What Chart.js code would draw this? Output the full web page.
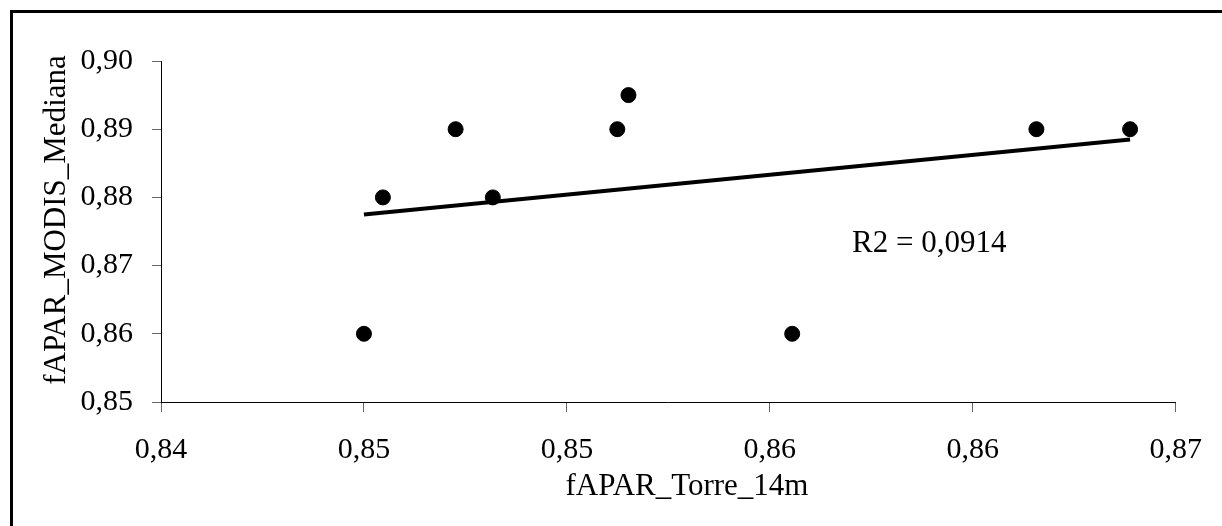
<!DOCTYPE html>
<html>
<head>
<meta charset="utf-8">
<title>fAPAR MODIS vs Torre</title>
<script src="https://cdn.jsdelivr.net/npm/chart.js@4/dist/chart.umd.min.js"></script>
<style>
  body { margin: 0; background: #fff; }
  #wrap { width: 1222px; height: 526px; }
</style>
</head>
<body>
<div id="wrap"><canvas id="chart" width="1222" height="526"></canvas></div>
<script>
// Data
const torreValues = [0.8460, 0.84656, 0.84871, 0.84981, 0.85349, 0.85382, 0.85866, 0.86588, 0.86865];
const modisValues = [0.860, 0.880, 0.890, 0.880, 0.890, 0.895, 0.860, 0.890, 0.890];
const xTicks = [0.84, 0.846, 0.852, 0.858, 0.864, 0.87];
const yTicks = [0.85, 0.86, 0.87, 0.88, 0.89, 0.90];
const xTitle = "fAPAR_Torre_14m";
const yTitle = "fAPAR_MODIS_Mediana";
const r2Label = "R2 = 0,0914";

const font = "Liberation Serif, Times New Roman, serif";

// least squares trend line over the points
function trendLine(xs, ys) {
  let n = xs.length;
  let mx = xs.reduce((a, b) => a + b, 0) / n;
  let my = ys.reduce((a, b) => a + b, 0) / n;
  let sxy = 0, sxx = 0;
  for (let i = 0; i < n; i++) {
    sxy += (xs[i] - mx) * (ys[i] - my);
    sxx += (xs[i] - mx) * (xs[i] - mx);
  }
  let slope = sxy / sxx;
  let x0 = Math.min(...xs), x1 = Math.max(...xs);
  return [
    { x: x0, y: my + slope * (x0 - mx) },
    { x: x1, y: my + slope * (x1 - mx) }
  ];
}

const points = torreValues.map((x, i) => ({ x: x, y: modisValues[i] }));
const fmt = v => Number(v).toFixed(2).replace(".", ",");

// frame, axis titles and R2 label
const extras = {
  id: "extras",
  afterDraw(chart) {
    const ctx = chart.ctx;
    ctx.save();
    ctx.strokeStyle = "#000";
    ctx.lineWidth = 3;
    ctx.strokeRect(11.5, 11.5, 1400, 700);

    ctx.fillStyle = "#000";
    ctx.font = "31px " + font;
    ctx.textBaseline = "alphabetic";
    ctx.textAlign = "left";
    ctx.fillText(r2Label, 852, 252);

    ctx.textAlign = "center";
    ctx.fillText(xTitle, 687, 495);

    ctx.translate(65, 220);
    ctx.rotate(-Math.PI / 2);
    ctx.fillText(yTitle, 0, 0);
    ctx.restore();
  }
};

new Chart(document.getElementById("chart"), {
  type: "scatter",
  data: {
    datasets: [
      {
        data: points,
        backgroundColor: "#000",
        borderColor: "#000",
        pointRadius: 7.5,
        pointHoverRadius: 7.5,
        order: 1
      },
      {
        data: trendLine(torreValues, modisValues),
        showLine: true,
        borderColor: "#000",
        borderWidth: 4,
        pointRadius: 0,
        order: 2
      }
    ]
  },
  options: {
    responsive: false,
    animation: false,
    layout: { padding: { top: 61, right: 44, left: 0, bottom: 0 } },
    plugins: { legend: { display: false }, tooltip: { enabled: false } },
    scales: {
      x: {
        type: "linear",
        min: 0.84,
        max: 0.87,
        afterBuildTicks(scale) { scale.ticks = xTicks.map(v => ({ value: v })); },
        afterFit(scale) { scale.height = 124; },
        border: { color: "#000", width: 1 },
        grid: { drawOnChartArea: false, drawTicks: true, tickLength: 10, color: "#666" },
        ticks: {
          padding: 20,
          color: "#000",
          font: { family: font, size: 30 },
          callback: v => fmt(v)
        }
      },
      y: {
        type: "linear",
        min: 0.85,
        max: 0.90,
        afterBuildTicks(scale) { scale.ticks = yTicks.map(v => ({ value: v })); },
        afterFit(scale) { scale.width = 161; },
        border: { color: "#000", width: 1 },
        grid: { drawOnChartArea: false, drawTicks: true, tickLength: 9, color: "#666" },
        ticks: {
          padding: 19,
          color: "#000",
          font: { family: font, size: 30 },
          callback: v => fmt(v)
        }
      }
    }
  },
  plugins: [extras]
});
</script>
</body>
</html>
